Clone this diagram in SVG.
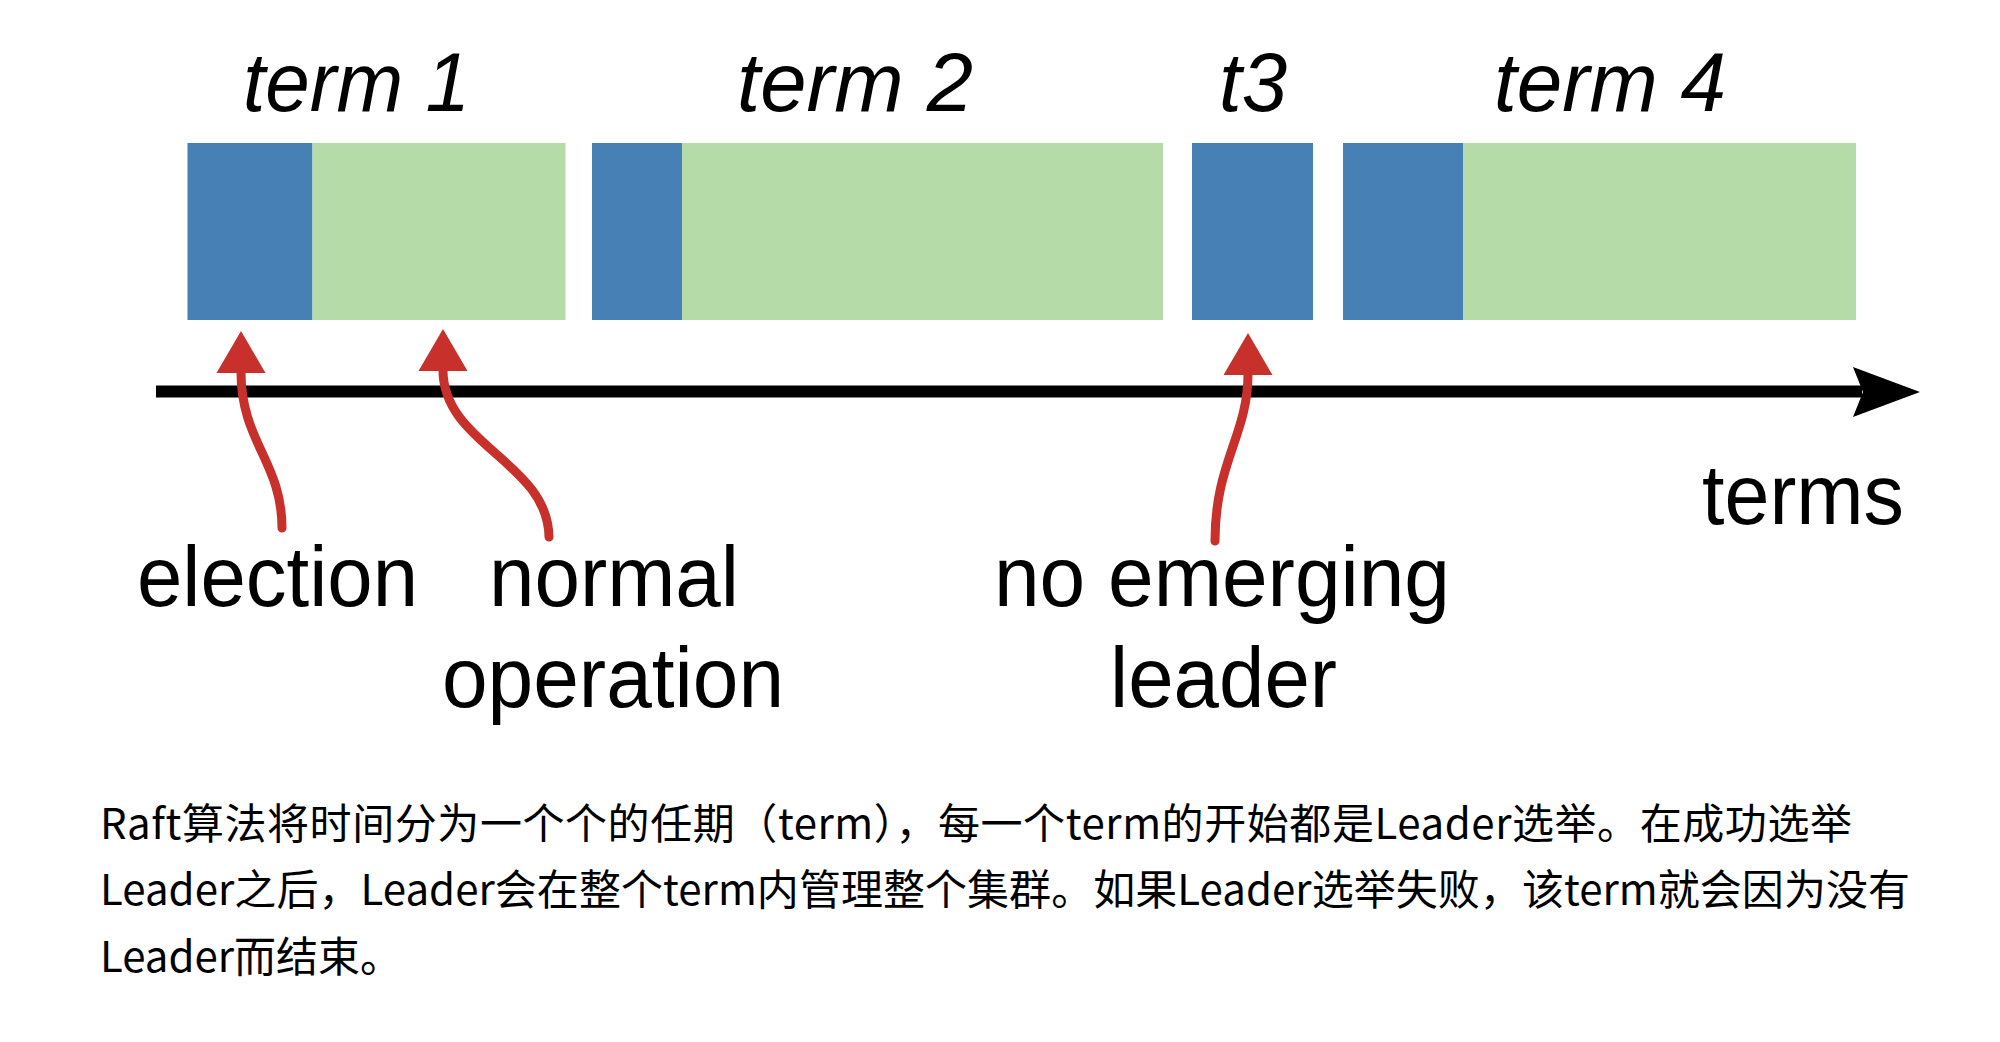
<svg xmlns="http://www.w3.org/2000/svg" width="2000" height="1042" viewBox="0 0 2000 1042">
  <style>
    .elec { fill: #4680b5; }
    .norm { fill: #b5dca8; }
    .term { font-family: "Liberation Sans", Arial, sans-serif; font-style: italic; font-size: 84px; fill: #000; }
    .lbl { font-family: "Liberation Sans", Arial, sans-serif; font-size: 86px; fill: #000; }
    .para { font-family: "Noto Sans CJK SC", "Noto Sans", sans-serif; font-size: 42px; fill: #000; }
    .red { fill: none; stroke: #c8302b; stroke-width: 9; stroke-linecap: round; }
  </style>
  <defs>
    <marker id="redHead" markerUnits="userSpaceOnUse" markerWidth="50" markerHeight="52" viewBox="0 -26 44 52" refX="1" refY="0" orient="auto">
      <path d="M0,-24.5 L42,0 L0,24.5 Z" fill="#c8302b"/>
    </marker>
  </defs>
  <rect width="2000" height="1042" fill="#fff"/>

  <g id="term1">
    <rect class="elec" x="187.5" y="143" width="125" height="177"/>
    <rect class="norm" x="312.5" y="143" width="253" height="177"/>
    <text class="term" x="243" y="111" textLength="227" lengthAdjust="spacingAndGlyphs">term 1</text>
  </g>
  <g id="term2">
    <rect class="elec" x="592" y="143" width="90" height="177"/>
    <rect class="norm" x="682" y="143" width="481" height="177"/>
    <text class="term" x="737" y="111" textLength="236" lengthAdjust="spacingAndGlyphs">term 2</text>
  </g>
  <g id="term3">
    <rect class="elec" x="1192" y="143" width="121" height="177"/>
    <text class="term" x="1219" y="111" textLength="68" lengthAdjust="spacingAndGlyphs">t3</text>
  </g>
  <g id="term4">
    <rect class="elec" x="1343" y="143" width="120" height="177"/>
    <rect class="norm" x="1463" y="143" width="393" height="177"/>
    <text class="term" x="1494" y="111" textLength="232" lengthAdjust="spacingAndGlyphs">term 4</text>
  </g>

  <g id="axis">
    <line x1="156" y1="391.5" x2="1862" y2="391.5" stroke="#000" stroke-width="12"/>
    <polygon points="1853,367 1920,392 1853,417 1863,392" fill="#000"/>
    <text class="lbl" x="1702" y="524" textLength="202" lengthAdjust="spacingAndGlyphs">terms</text>
  </g>

  <g id="connectors">
    <path class="red" d="M282,528 C282,462 241,442 241,372" marker-end="url(#redHead)"/>
    <path class="red" d="M549,537 C548,462 443,445 443,370" marker-end="url(#redHead)"/>
    <path class="red" d="M1215,541 C1215,462 1248,435 1248,374" marker-end="url(#redHead)"/>
  </g>

  <g id="label-election">
    <text class="lbl" x="137" y="606" textLength="281" lengthAdjust="spacingAndGlyphs">election</text>
  </g>
  <g id="label-normal">
    <text class="lbl" x="489" y="606" textLength="250" lengthAdjust="spacingAndGlyphs">normal</text>
    <text class="lbl" x="442" y="707" textLength="342" lengthAdjust="spacingAndGlyphs">operation</text>
  </g>
  <g id="label-noleader">
    <text class="lbl" x="994" y="606" textLength="456" lengthAdjust="spacingAndGlyphs">no emerging</text>
    <text class="lbl" x="1110" y="707" textLength="227" lengthAdjust="spacingAndGlyphs">leader</text>
  </g>

  <g id="caption">
    <text class="para" x="100" y="839" textLength="1752" lengthAdjust="spacing">Raft算法将时间分为一个个的任期（term），每一个term的开始都是Leader选举。在成功选举</text>
    <text class="para" x="100" y="905" textLength="1810" lengthAdjust="spacing">Leader之后，Leader会在整个term内管理整个集群。如果Leader选举失败，该term就会因为没有</text>
    <text class="para" x="100" y="972">Leader而结束。</text>
  </g>
</svg>
